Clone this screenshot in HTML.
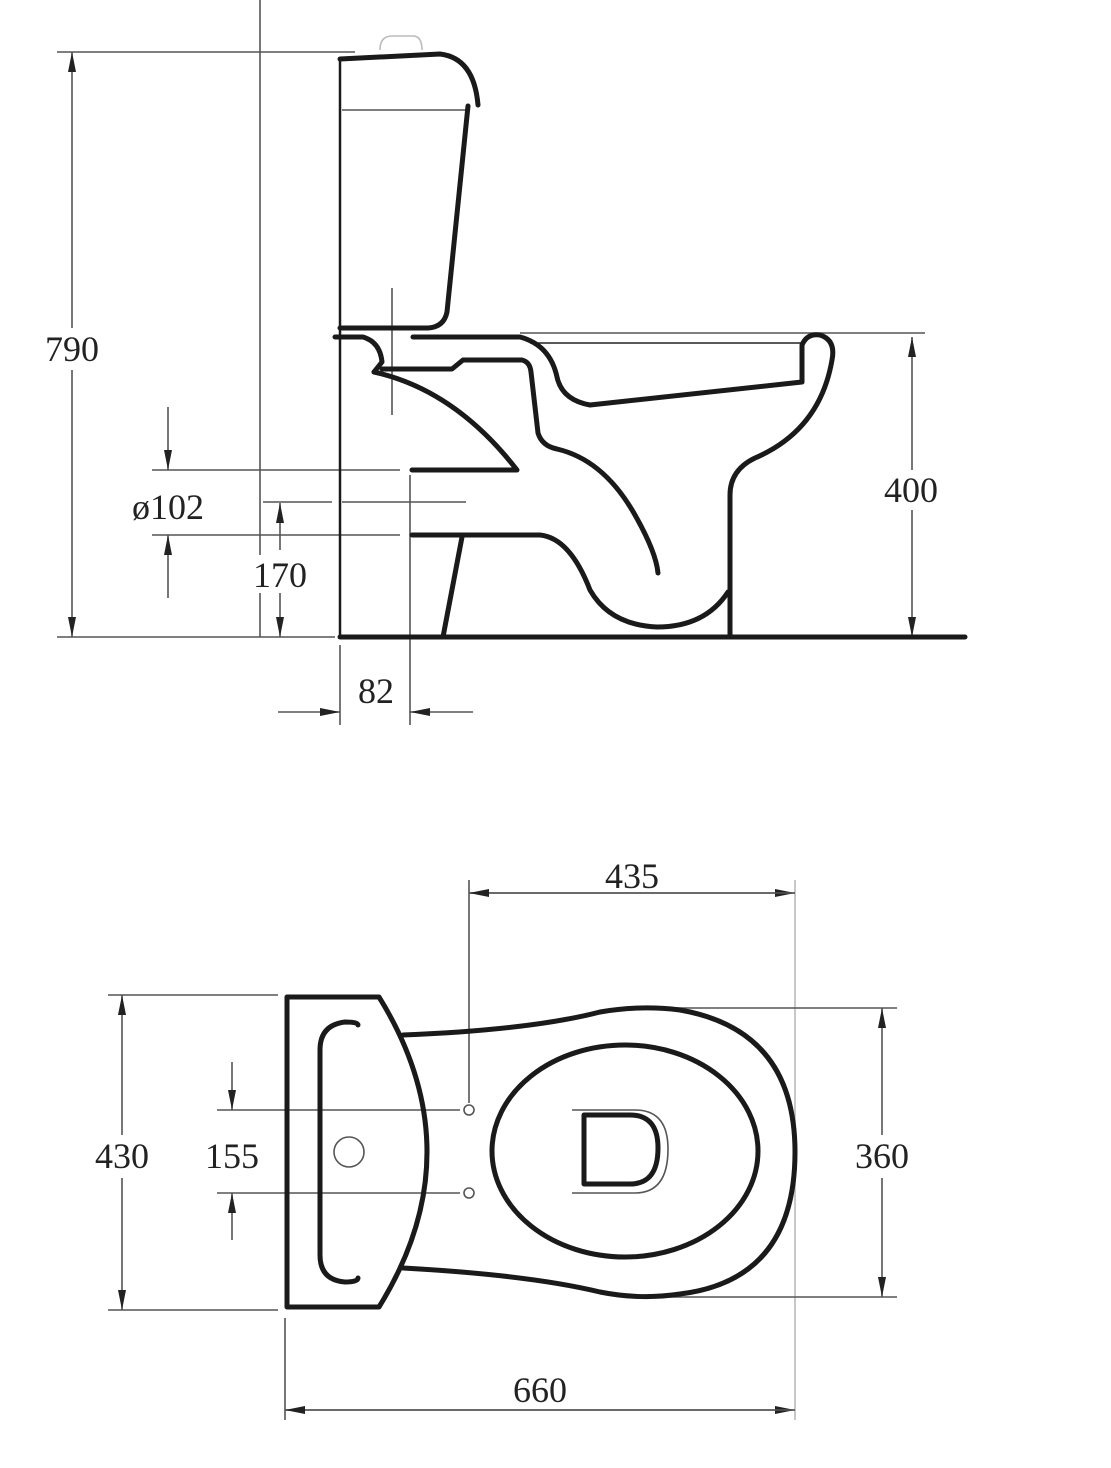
<!DOCTYPE html>
<html><head><meta charset="utf-8"><style>
html,body{margin:0;padding:0;background:#fff;}
svg{display:block}
text{font-family:"Liberation Serif",serif;font-size:36px;fill:#222;text-anchor:middle}
</style></head><body>
<svg width="1111" height="1468" viewBox="0 0 1111 1468" xmlns="http://www.w3.org/2000/svg">
<defs>
<marker id="a" viewBox="0 0 20 8" refX="20" refY="4" markerWidth="20" markerHeight="8" markerUnits="userSpaceOnUse" orient="auto"><path d="M0,0 L20,4 L0,8 Z" fill="#222"/></marker>
</defs>
<g stroke="#555" stroke-width="1.6" fill="none">
<line x1="260" y1="0" x2="260" y2="637"/>
<line x1="57" y1="52" x2="355" y2="52"/>
<line x1="57" y1="637" x2="335" y2="637"/>
<line x1="72" y1="345" x2="72" y2="52" marker-end="url(#a)"/>
<line x1="72" y1="370" x2="72" y2="637" marker-end="url(#a)"/>
<line x1="152" y1="470" x2="400" y2="470"/>
<line x1="152" y1="535" x2="400" y2="535"/>
<line x1="168" y1="407" x2="168" y2="470" marker-end="url(#a)"/>
<line x1="168" y1="598" x2="168" y2="535" marker-end="url(#a)"/>
<line x1="263" y1="502" x2="332" y2="502"/>
<line x1="342" y1="502" x2="466" y2="502"/>
<line x1="280" y1="550" x2="280" y2="503" marker-end="url(#a)"/>
<line x1="280" y1="593" x2="280" y2="637" marker-end="url(#a)"/>
<line x1="410" y1="475" x2="410" y2="725"/>
<line x1="340" y1="645" x2="340" y2="725"/>
<line x1="278" y1="712" x2="340" y2="712" marker-end="url(#a)"/>
<line x1="473" y1="712" x2="410" y2="712" marker-end="url(#a)"/>
<line x1="392" y1="288" x2="392" y2="415"/>
<line x1="520" y1="333" x2="925" y2="333"/>
<line x1="530" y1="343" x2="802" y2="343" stroke="#222"/>
<line x1="342" y1="110" x2="466" y2="110"/>
<line x1="912" y1="470" x2="912" y2="337" marker-end="url(#a)"/>
<line x1="912" y1="510" x2="912" y2="637" marker-end="url(#a)"/>
<path d="M380,50 Q380,36 392,36 L413,36 Q422,36 422,50" stroke="#bbb"/>
<line x1="469" y1="880" x2="469" y2="1103"/>
<line x1="795" y1="880" x2="795" y2="1420" stroke="#bbb"/>
<line x1="469" y1="893" x2="795" y2="893" marker-end="url(#a)"/>
<line x1="795" y1="893" x2="469" y2="893" marker-end="url(#a)"/>
<line x1="108" y1="995" x2="278" y2="995"/>
<line x1="108" y1="1310" x2="278" y2="1310"/>
<line x1="122" y1="1135" x2="122" y2="995" marker-end="url(#a)"/>
<line x1="122" y1="1178" x2="122" y2="1310" marker-end="url(#a)"/>
<line x1="217" y1="1110" x2="460" y2="1110"/>
<line x1="217" y1="1193" x2="460" y2="1193"/>
<line x1="232" y1="1062" x2="232" y2="1110" marker-end="url(#a)"/>
<line x1="232" y1="1240" x2="232" y2="1193" marker-end="url(#a)"/>
<line x1="650" y1="1008" x2="897" y2="1008"/>
<line x1="650" y1="1297" x2="897" y2="1297"/>
<line x1="882" y1="1135" x2="882" y2="1008" marker-end="url(#a)"/>
<line x1="882" y1="1178" x2="882" y2="1297" marker-end="url(#a)"/>
<line x1="285" y1="1318" x2="285" y2="1420"/>
<line x1="285" y1="1410" x2="795" y2="1410" marker-end="url(#a)"/>
<line x1="795" y1="1410" x2="285" y2="1410" marker-end="url(#a)"/>
<circle cx="349" cy="1152" r="15"/>
<circle cx="469" cy="1110" r="5"/>
<circle cx="469" cy="1193" r="5"/>
<path d="M572,1110 L635,1110 Q668,1110 668,1149 Q668,1193 635,1193 L572,1193"/>
</g>
<g stroke="#1a1a1a" fill="none" stroke-linejoin="round" stroke-linecap="round">
<line x1="340" y1="58" x2="340" y2="637" stroke-width="2.5"/>
<line x1="340" y1="637" x2="965" y2="637" stroke-width="5"/>
<g stroke-width="5">
<path d="M340,59 L440,54 Q474,58 478,105 M468,106 L447,312 Q444,327 428,328 L340,328"/>
<path d="M335,337 L363,337 Q380,342 382,362 L374,372 M413,337 L520,337 Q550,345 557,377 Q562,400 590,405 L802,382 L802,345 Q807,333 820,335 Q836,340 832,360 Q820,430 755,458 Q730,470 730,495 L730,635"/>
<path d="M382,369 L452,369 L463,360 L522,360 Q530,362 531,372 L538,433 Q542,446 557,449 Q604,460 635,515 Q656,552 658,573"/>
<path d="M374,372 Q455,390 517,470 L412,470 M412,535 L540,535 Q570,538 590,590 Q610,625 657,627 Q705,627 728,592 M462,537 L443,637"/>
<path d="M287,997 L379,997 Q475,1152 379,1307 L287,1307 Z"/>
<path d="M358,1025 Q358,1022 345,1022 Q320,1025 320,1050 L320,1255 Q320,1280 345,1282 Q358,1282 358,1278"/>
<path d="M403,1035 Q530,1030 600,1012 Q640,1005 680,1010 Q795,1030 795,1152 Q795,1280 680,1294 Q640,1300 600,1292 Q530,1275 403,1268"/>
<ellipse cx="625" cy="1151" rx="133" ry="106"/>
<path d="M584,1115 L630,1115 Q658,1115 658,1148 Q658,1184 630,1184 L584,1184 Z"/>
</g>
</g>
<g>
<rect x="40" y="328" width="66" height="40" fill="#fff"/>
<text x="72" y="361">790</text>
<text x="168" y="519">ø102</text>
<rect x="248" y="555" width="64" height="38" fill="#fff"/>
<text x="280" y="587">170</text>
<text x="376" y="703">82</text>
<rect x="878" y="472" width="66" height="38" fill="#fff"/>
<text x="911" y="502">400</text>
<text x="632" y="888">435</text>
<rect x="90" y="1138" width="64" height="36" fill="#fff"/>
<text x="122" y="1168">430</text>
<text x="232" y="1168">155</text>
<rect x="850" y="1138" width="64" height="36" fill="#fff"/>
<text x="882" y="1168">360</text>
<text x="540" y="1402">660</text>
</g>
</svg>
</body></html>
